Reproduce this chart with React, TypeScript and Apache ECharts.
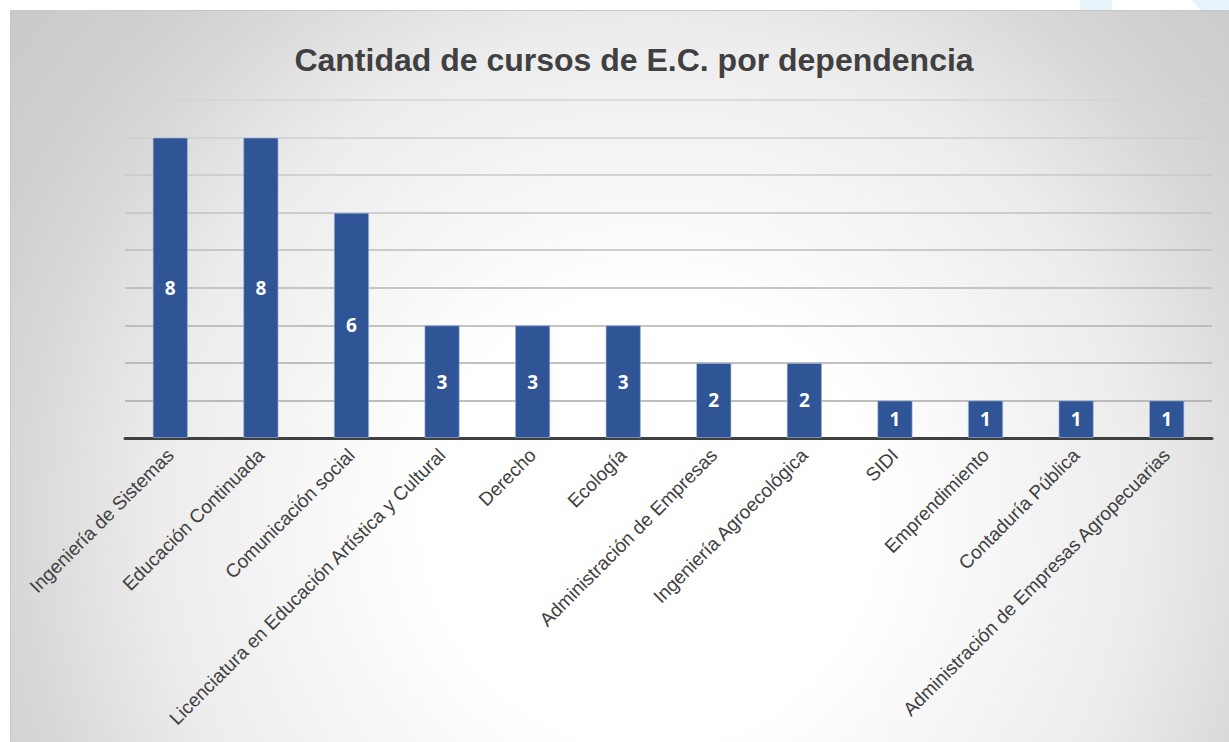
import React, { useEffect, useRef } from "react";
import * as echarts from "echarts";

const categories = [
  "Ingeniería de Sistemas",
  "Educación Continuada",
  "Comunicación social",
  "Licenciatura en Educación Artística y Cultural",
  "Derecho",
  "Ecología",
  "Administración de Empresas",
  "Ingeniería Agroecológica",
  "SIDI",
  "Emprendimiento",
  "Contaduría Pública",
  "Administración de Empresas Agropecuarias",
];
const values = [8, 8, 6, 3, 3, 3, 2, 2, 1, 1, 1, 1];
const titleText = "Cantidad de cursos de E.C. por dependencia";

export default function App() {
  const ref = useRef<HTMLDivElement>(null);
  useEffect(() => {
    document.body.style.margin = "0";
    const chart = echarts.init(ref.current!, null, { renderer: "svg" });
    chart.setOption({
      animation: false,
      graphic: [
        {
          type: "rect",
          z: -10,
          silent: true,
          shape: { x: 10.5, y: 10.5, width: 1260, height: 760 },
          style: {
            fill: {
              type: "radial",
              global: true,
              x: 650,
              y: 520,
              r: 900,
              colorStops: [
                { offset: 0, color: "#ffffff" },
                { offset: 0.25, color: "#ffffff" },
                { offset: 0.55, color: "#ececec" },
                { offset: 0.7, color: "#d8d8d8" },
                { offset: 0.78, color: "#d0d0d0" },
                { offset: 0.94, color: "#c8c8c8" },
                { offset: 1, color: "#c4c4c4" },
              ],
            },
            stroke: "#c8c8c8",
            lineWidth: 1,
          },
        },
        {
          type: "polygon",
          z: -11,
          silent: true,
          shape: { points: [[1080, 0], [1112, 0], [1112, 10], [1080, 10]] },
          style: { fill: "#e6f3fb" },
        },
        {
          type: "polygon",
          z: -11,
          silent: true,
          shape: { points: [[1192, 0], [1229, 0], [1229, 10], [1200, 10]] },
          style: { fill: "#e6f3fb" },
        },
        {
          type: "text",
          x: 634,
          y: 60,
          style: {
            text: titleText,
            fill: "#404040",
            font: "bold 32px 'Liberation Sans', Arial, sans-serif",
            align: "center",
            verticalAlign: "middle",
          },
        },
      ],
      grid: { left: 125, right: 17, top: 100, bottom: 304, containLabel: false },
      xAxis: {
        type: "category",
        data: categories,
        axisLine: { lineStyle: { color: "#404040", width: 3 } },
        axisTick: { show: false },
        axisLabel: {
          rotate: 45,
          interval: 0,
          margin: 14,
          color: "#404040",
          fontSize: 19,
          fontFamily: "'Liberation Sans', Arial, sans-serif",
        },
      },
      yAxis: {
        type: "value",
        min: 0,
        max: 9,
        interval: 1,
        axisLabel: { show: false },
        axisLine: { show: false },
        axisTick: { show: false },
        splitLine: {
          lineStyle: {
            color: [
              "#a8a8a8",
              "#a8a8a8",
              "#acacac",
              "#b0b0b0",
              "#b6b6b6",
              "#bcbcbc",
              "#c2c2c2",
              "#c8c8c8",
              "#cecece",
              "#d4d4d4",
            ],
            width: 1.5,
          },
        },
      },
      series: [
        {
          type: "bar",
          data: values,
          barWidth: "39%",
          itemStyle: {
            color: "#2F5597",
            borderColor: "rgba(160,185,225,0.6)",
            borderWidth: 1,
          },
          label: {
            show: true,
            position: "inside",
            color: "#ffffff",
            fontWeight: "bold",
            fontSize: 19,
            fontFamily: "'Open Sans', Arial, sans-serif",
          },
        },
      ],
    });
    return () => chart.dispose();
  }, []);
  return (
    <div
      ref={ref}
      style={{ position: "absolute", left: 0, top: 0, width: 1229, height: 742, background: "#ffffff" }}
    />
  );
}
